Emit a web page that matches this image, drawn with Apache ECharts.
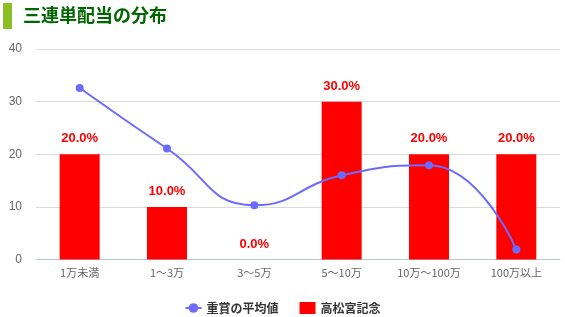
<!DOCTYPE html>
<html><head><meta charset="utf-8">
<script src="https://cdn.jsdelivr.net/npm/echarts@6/dist/echarts.min.js"></script>
<style>html,body{margin:0;padding:0;background:#fff}#c{width:565px;height:317px}</style>
</head><body><div id="c"></div>
<script>
const categories = ['1万未満','1～3万','3～5万','5～10万','10万～100万','100万以上'];
const barValues = [20, 10, 0, 30, 20, 20];
const lineValues = [32.6, 21.1, 10.3, 16.0, 17.9, 1.9];
const yTicks = {min: 0, max: 40, interval: 10};
const titleText = '三連単配当の分布';
const lineName = '重賞の平均値';
const barName = '高松宮記念';

const chart = echarts.init(document.getElementById('c'));
chart.setOption({
  animation: false,
  graphic: [
    {type: 'rect', left: 3, top: 3, shape: {width: 9, height: 26}, style: {fill: '#8cbf26'}},
    {type: 'text', left: 23, top: 6, style: {text: titleText, fill: '#006600', font: 'bold 18px "Noto Sans CJK JP", sans-serif'}}
  ],
  legend: {
    top: 302, left: 'center', itemGap: 21, padding: 0,
    data: [{name: lineName}, {name: barName, icon: 'rect'}],
    textStyle: {fontWeight: 'bold', fontSize: 12, color: '#333', fontFamily: '"Noto Sans CJK JP", sans-serif'},
    itemWidth: 16, itemHeight: 12
  },
  grid: {left: 36, right: 5, top: 49, bottom: 57.5},
  xAxis: {
    type: 'category', data: categories,
    axisLine: {lineStyle: {color: '#b8c8dc'}},
    axisTick: {lineStyle: {color: '#b8c8dc'}, length: 8},
    axisLabel: {color: '#666', fontSize: 11, margin: 8, fontFamily: '"Noto Sans CJK JP", sans-serif'}
  },
  yAxis: {
    type: 'value', min: yTicks.min, max: yTicks.max, interval: yTicks.interval,
    axisLabel: {color: '#666', fontSize: 12, margin: 14},
    splitLine: {lineStyle: {color: '#d9d9d9'}},
    axisLine: {show: false}, axisTick: {show: false}
  },
  series: [
    {
      name: lineName, type: 'line', data: lineValues, smooth: true,
      symbol: 'circle', symbolSize: 8, z: 5,
      itemStyle: {color: '#6b6bff'}, lineStyle: {color: '#6b6bff', width: 2}
    },
    {
      name: barName, type: 'bar', data: barValues, barWidth: 40,
      itemStyle: {color: '#ff0000'},
      label: {show: true, position: 'top', distance: 9, color: '#ff0000', fontWeight: 'bold', fontSize: 13,
        formatter: p => p.value.toFixed(1) + '%'}
    }
  ]
});
</script></body></html>
